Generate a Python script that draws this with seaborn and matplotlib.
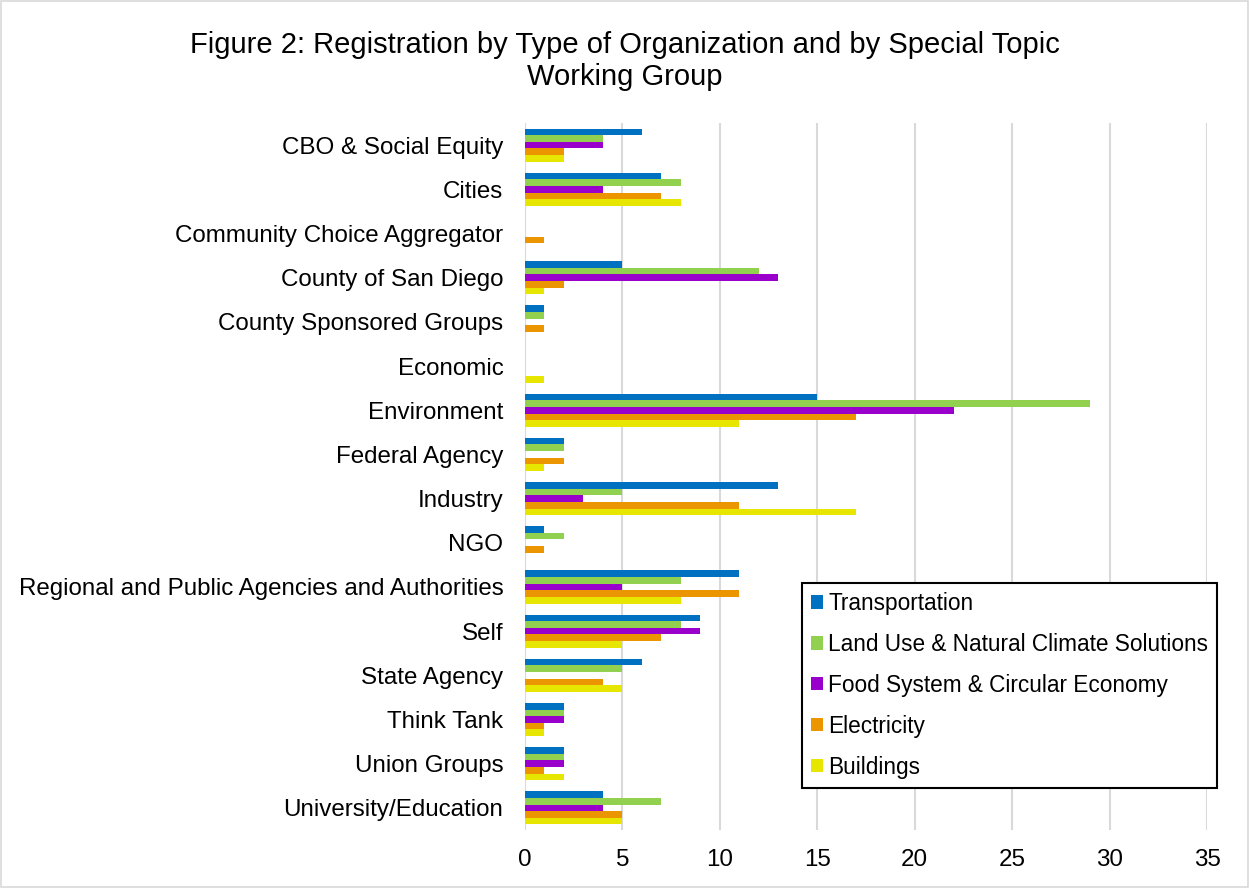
import pandas as pd
import seaborn as sns
from matplotlib import pyplot as plt
from matplotlib.patches import Rectangle

categories = ["CBO & Social Equity", "Cities", "Community Choice Aggregator",
              "County of San Diego", "County Sponsored Groups", "Economic",
              "Environment", "Federal Agency", "Industry", "NGO",
              "Regional and Public Agencies and Authorities", "Self",
              "State Agency", "Think Tank", "Union Groups", "University/Education"]

transportation = [6, 7, 0, 5, 1, 0, 15, 2, 13, 1, 11, 9, 6, 2, 2, 4]
land_use = [4, 8, 0, 12, 1, 0, 29, 2, 5, 2, 8, 8, 5, 2, 2, 7]
food_system = [4, 4, 0, 13, 0, 0, 22, 0, 3, 0, 5, 9, 0, 2, 2, 4]
electricity = [2, 7, 1, 2, 1, 0, 17, 2, 11, 1, 11, 7, 4, 1, 1, 5]
buildings = [2, 8, 0, 1, 0, 1, 11, 1, 17, 0, 8, 5, 5, 1, 2, 5]

groups = ["Transportation", "Land Use & Natural Climate Solutions",
          "Food System & Circular Economy", "Electricity", "Buildings"]
colors = ["#0070C0", "#92D050", "#9900CC", "#EB9500", "#E6E600"]

series = [transportation, land_use, food_system, electricity, buildings]
rows = []
for g, vals in zip(groups, series):
    for c, v in zip(categories, vals):
        rows.append({"org": c, "group": g, "count": v})
df = pd.DataFrame(rows)

sns.set_style("white")
plt.rcParams['font.family'] = ['Liberation Sans', 'DejaVu Sans']

fig = plt.figure(figsize=(12.49, 8.88), dpi=100)
ax = fig.add_axes([0.4203, 0.0653, 0.5461, 0.7962])

sns.barplot(data=df, y="org", x="count", hue="group", order=categories,
            hue_order=groups, palette=colors, width=0.75, orient="h",
            saturation=1, linewidth=0, ax=ax)

ax.set_xlim(0, 35)
ax.set_xticks(range(0, 36, 5))
ax.set_ylim(15.5, -0.5)
ax.set_xlabel("")
ax.set_ylabel("")
ax.grid(axis="x", color="#d9d9d9", linewidth=1.5)
ax.set_axisbelow(True)
for s in ax.spines.values():
    s.set_visible(False)
ax.tick_params(axis="both", length=0, labelsize=17.4, colors="black")
ax.tick_params(axis="x", pad=14)
ax.tick_params(axis="y", pad=15.5)

fig.suptitle("Figure 2: Registration by Type of Organization and by Special Topic\nWorking Group",
             fontsize=21, y=0.965, linespacing=1.17, color="black")

leg = ax.legend(loc="upper left", bbox_to_anchor=(802 / 1249, 1 - 583 / 888),
                bbox_transform=fig.transFigure, fontsize=16.3, frameon=True,
                fancybox=False, edgecolor="black", framealpha=1, borderaxespad=0,
                handlelength=0.53, handleheight=0.53, handletextpad=0.22,
                labelspacing=0.79, borderpad=0.4)
leg.get_frame().set_linewidth(1.5)
for t in leg.get_texts():
    t.set_color("black")

fig.patches.append(Rectangle((0.001, 0.001), 0.998, 0.998, transform=fig.transFigure,
                             fill=False, edgecolor="#d9d9d9", linewidth=1.2))

fig.savefig("out.png", dpi=100)
